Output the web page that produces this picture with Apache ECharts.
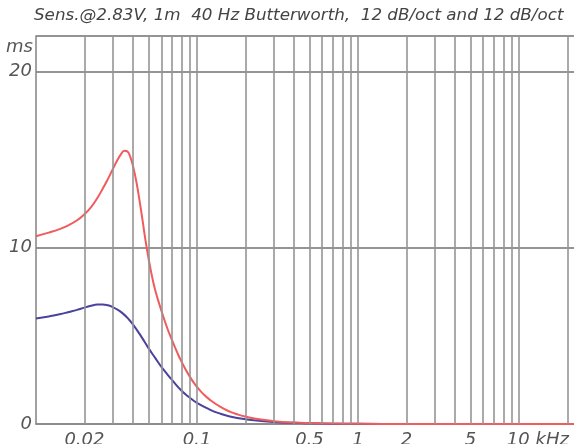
<!DOCTYPE html>
<html>
<head>
<meta charset="utf-8">
<script src="https://cdn.jsdelivr.net/npm/echarts@6/dist/echarts.min.js"></script>
<style>html,body{margin:0;padding:0;background:#fff;}#c{width:574px;height:444px;}</style>
</head>
<body>
<div id="c"></div>
<script>
// Frequencies in kHz, group delay in ms
const redFreq = [0.01,0.012,0.014,0.016,0.018,0.02,0.022,0.024,0.026,0.028,0.03,0.032,0.034,0.0355,0.037,0.0385,0.04,0.042,0.044,0.046,0.048,0.05,0.0525,0.055,0.06,0.065,0.07,0.075,0.08,0.09,0.1,0.11,0.12,0.14,0.16,0.18,0.2,0.25,0.3,0.4,0.5,0.7,1,2,5,10,22];
const redDelay = [10.65,10.85,11.05,11.28,11.55,11.9,12.3,12.8,13.35,13.9,14.45,14.95,15.35,15.5,15.45,15.15,14.65,13.75,12.65,11.5,10.35,9.4,8.4,7.6,6.45,5.5,4.75,4.1,3.55,2.7,2.1,1.68,1.38,0.97,0.7,0.53,0.42,0.25,0.16,0.08,0.05,0.025,0.012,0.004,0.001,0,0];
const blueFreq = [0.01,0.012,0.014,0.016,0.018,0.02,0.022,0.024,0.026,0.028,0.03,0.0325,0.035,0.0375,0.04,0.045,0.05,0.055,0.06,0.065,0.07,0.08,0.09,0.1,0.12,0.14,0.16,0.2,0.25,0.3,0.4,0.5,0.7,1,2,5,22];
const blueDelay = [5.98,6.1,6.22,6.35,6.47,6.6,6.7,6.77,6.78,6.73,6.63,6.45,6.23,5.96,5.65,4.97,4.3,3.75,3.25,2.85,2.5,1.9,1.5,1.2,0.82,0.58,0.43,0.27,0.17,0.115,0.065,0.042,0.021,0.01,0.003,0.0005,0];
const gridFreqs = [0.02,0.03,0.04,0.05,0.06,0.07,0.08,0.09,0.1,0.2,0.3,0.4,0.5,0.6,0.7,0.8,0.9,1,2,3,4,5,6,7,8,9,10,20];
const labelFreqs = [0.02,0.1,0.5,1,2,5,10];
const labelTexts = ['0.02','0.1','0.5','1','2','5','10 kHz'];
const titleText = 'Sens.@2.83V, 1m  40 Hz Butterworth,  12 dB/oct and 12 dB/oct';

const FONT = 'DejaVu Sans';
const chart = echarts.init(document.getElementById('c'), null, {renderer: 'canvas'});
const pair = (xs, ys) => xs.map((x, i) => [x, ys[i]]);

const gridLineData = gridFreqs.map(f => {
  const idx = labelFreqs.indexOf(f);
  const item = { xAxis: f };
  if (idx >= 0) {
    const isUnit = labelTexts[idx].indexOf('kHz') >= 0;
    item.label = { show: true, formatter: labelTexts[idx], padding: isUnit ? [0,0,0,38] : 0 };
  } else {
    item.label = { show: false };
  }
  return item;
});

chart.setOption({
  animation: false,
  backgroundColor: '#ffffff',
  graphic: [
    {
      type: 'text', x: 34, y: 9, scaleX: 1.115, scaleY: 1,
      style: { text: titleText, font: 'italic 15px "DejaVu Sans"', fill: '#444', textVerticalAlign: 'top' }
    },
    {
      type: 'text', left: 6, top: 38,
      style: { text: 'ms', font: 'italic 18px "DejaVu Sans"', fill: '#555' }
    }
  ],
  grid: { left: 36, top: 36, right: 0, bottom: 20, containLabel: false, outerBoundsMode: 'none' },
  xAxis: {
    type: 'log', logBase: 10, min: 0.01, max: 22,
    axisLine: { show: true, lineStyle: { color: '#8a8a8a', width: 1.6 } },
    axisTick: { show: false }, axisLabel: { show: false },
    splitLine: { show: false }, minorTick: { show: false }
  },
  yAxis: {
    type: 'value', min: 0, max: 22, interval: 10,
    axisLine: { show: true, lineStyle: { color: '#8a8a8a', width: 1.6 } },
    axisTick: { show: false },
    axisLabel: { showMaxLabel: false, margin: 4, fontFamily: FONT, fontStyle: 'italic', fontSize: 18, color: '#555' },
    splitLine: { show: true, lineStyle: { color: '#707070', width: 1.6 } }
  },
  series: [
    {
      type: 'line', data: [], z: 1, silent: true,
      markLine: {
        silent: true, symbol: ['none','none'], animation: false,
        lineStyle: { type: 'solid', color: '#959595', width: 1.6 },
        label: { position: 'start', distance: 7, fontFamily: FONT, fontStyle: 'italic', fontSize: 18, color: '#555' },
        emphasis: { disabled: true },
        data: gridLineData
      }
    },
    {
      name: 'blue', type: 'line', data: pair(blueFreq, blueDelay), smooth: 0.5,
      showSymbol: false, z: 3, lineStyle: { color: '#4a429c', width: 2 }
    },
    {
      name: 'red', type: 'line', data: pair(redFreq, redDelay), smooth: 0.5,
      showSymbol: false, z: 4, lineStyle: { color: '#f05c5c', width: 2 }
    }
  ]
});
</script>
</body>
</html>
